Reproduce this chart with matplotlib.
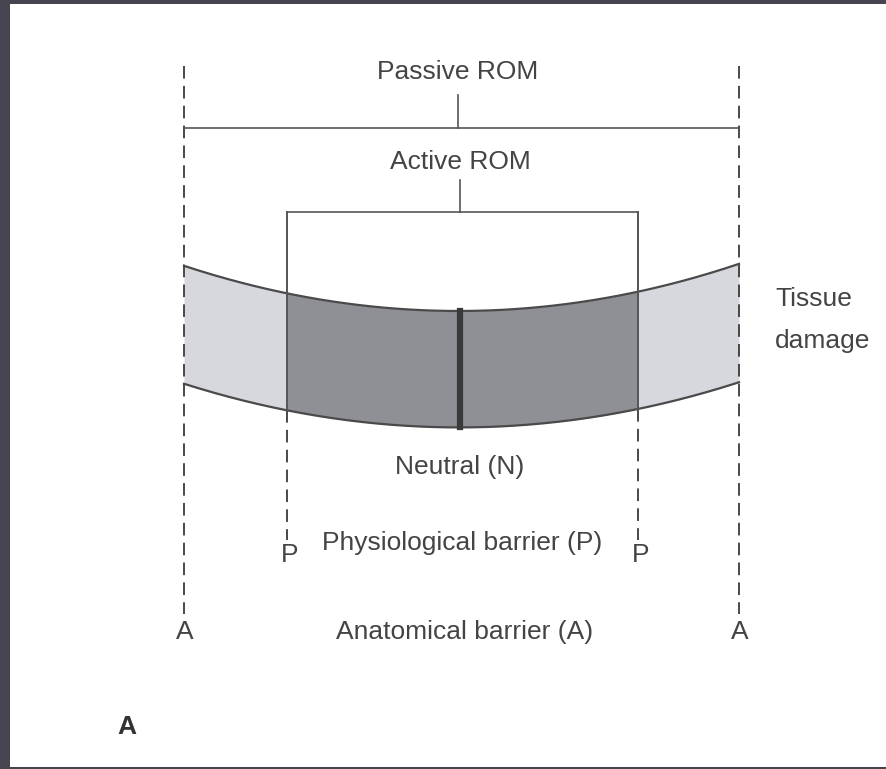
import numpy as np
import matplotlib
matplotlib.use("Agg")
import matplotlib.pyplot as plt

# ---- diagram data (pixel coordinates) ----
anat_x = [184, 739]            # anatomical barriers (A)
phys_x = [287, 638]            # physiological barriers (P)
neutral_x = 460                # neutral (N)
edge_x = [187, 287, 460, 638, 738]
top_y = [267, 293, 311, 292, 264]
bot_y = [385, 410, 427, 410, 382]
labels_main = ["Passive ROM", "Active ROM", "Neutral (N)",
               "Physiological barrier (P)", "Anatomical barrier (A)"]

W, H = 887, 769
fig = plt.figure(figsize=(W / 100, H / 100), dpi=100)
fig.patch.set_facecolor("#45444f")
ax = fig.add_axes([10 / W, 2 / H, (W - 10) / W, (H - 6) / H])
ax.set_xlim(10, W)
ax.set_ylim(H - 2, 4)
ax.set_facecolor("white")
for s in ax.spines.values():
    s.set_visible(False)
ax.set_xticks([])
ax.set_yticks([])

fam = ["Liberation Sans Narrow", "Liberation Sans", "DejaVu Sans"]
tc = "#444444"
lc = "#3a3a3a"

ct = np.polyfit(edge_x, top_y, 2)
cb = np.polyfit(edge_x, bot_y, 2)
ft = np.poly1d(ct)
fb = np.poly1d(cb)

light = "#d6d8de"
dark = "#8f9096"
segs = [(anat_x[0], phys_x[0], light), (phys_x[0], neutral_x, dark),
        (neutral_x, phys_x[1], dark), (phys_x[1], anat_x[1], light)]
for x0, x1, c in segs:
    xs = np.linspace(x0, x1, 100)
    ax.fill_between(xs, ft(xs), fb(xs), color=c, lw=0, zorder=1)
xs = np.linspace(anat_x[0], anat_x[1], 300)
ax.plot(xs, ft(xs), color="#4a4a4a", lw=1.6, zorder=3)
ax.plot(xs, fb(xs), color="#4a4a4a", lw=1.6, zorder=3)

# neutral bar
ax.plot([neutral_x, neutral_x], [ft(neutral_x), fb(neutral_x)], color=lc, lw=4.5, zorder=4)

# anatomical barrier dashed lines
for x in anat_x:
    ax.plot([x, x], [66, 614], color=lc, lw=1.3, ls=(0, (7, 4)), zorder=2)

# passive bracket
ax.plot([anat_x[0], anat_x[1]], [128, 128], color="#555555", lw=1.2, zorder=2)
ax.plot([458, 458], [95, 128], color="#555555", lw=1.2, zorder=2)

# active bracket
ax.plot([phys_x[0], phys_x[1]], [212, 212], color="#555555", lw=1.2, zorder=2)
ax.plot([460, 460], [180, 212], color="#555555", lw=1.2, zorder=2)
for x in phys_x:
    ax.plot([x, x], [212, fb(x)], color="#555555", lw=1.4, zorder=3)
    ax.plot([x, x], [fb(x), 540], color=lc, lw=1.3, ls=(0, (7, 4)), zorder=2)

fs = 19
ax.text(458, 72, labels_main[0], ha="center", va="center", fontsize=fs, color=tc, family=fam)
ax.text(460, 162, labels_main[1], ha="center", va="center", fontsize=fs, color=tc, family=fam)
ax.text(460, 467, labels_main[2], ha="center", va="center", fontsize=fs, color=tc, family=fam)
ax.text(462, 543, labels_main[3], ha="center", va="center", fontsize=fs, color=tc, family=fam)
ax.text(465, 632, labels_main[4], ha="center", va="center", fontsize=fs, color=tc, family=fam)
ax.text(775, 299, "Tissue", ha="left", va="center", fontsize=fs, color=tc, family=fam)
ax.text(775, 341, "damage", ha="left", va="center", fontsize=fs, color=tc, family=fam)
for x in phys_x:
    ax.text(x + 3, 555, "P", ha="center", va="center", fontsize=fs, color=tc, family=fam)
for x in anat_x:
    ax.text(x + 1, 632, "A", ha="center", va="center", fontsize=fs, color=tc, family=fam)
ax.text(127, 727, "A", ha="center", va="center", fontsize=fs, color="#333333", family=fam, fontweight="bold")

fig.savefig("out.png", dpi=100, facecolor=fig.get_facecolor())
